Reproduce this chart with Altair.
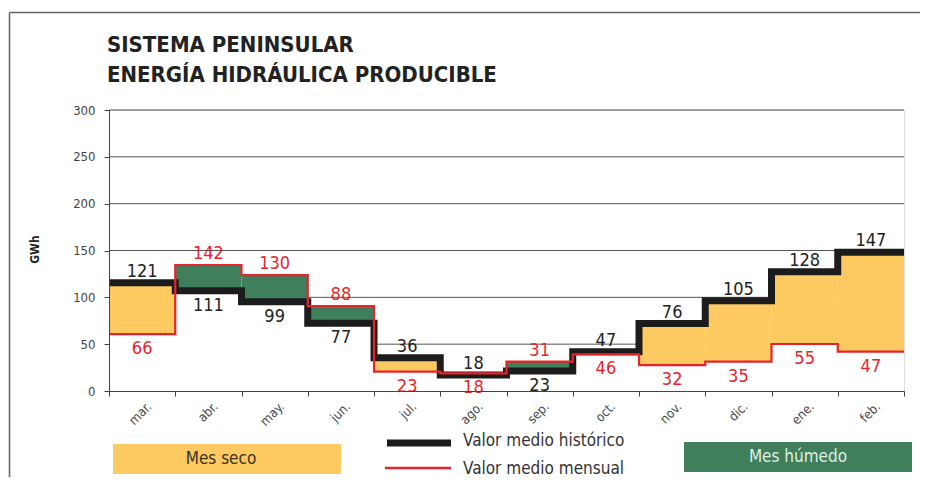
import json
import altair as alt
import pandas as pd

# ---- data ----
months = ["mar.", "abr.", "may.", "jun.", "jul.", "ago.", "sep.", "oct.", "nov.", "dic.", "ene.", "feb."]
# printed labels
hist_label = [121, 111, 99, 77, 36, 18, 23, 47, 76, 105, 128, 147]
mens_label = [66, 142, 130, 88, 23, 18, 31, 46, 32, 35, 55, 47]
# levels at which the step lines are drawn
hist_level = [115.6, 107, 95.3, 72.2, 35.6, 17, 21.3, 42, 72, 96.4, 127.3, 148]
mens_level = [60.8, 134.5, 123.8, 90.7, 20.6, 18.9, 31.3, 39, 27.7, 31.3, 50.2, 42]
y_ticks = [0, 50, 100, 150, 200, 250, 300]
title_lines = ["SISTEMA PENINSULAR", "ENERGÍA HIDRÁULICA PRODUCIBLE"]

FONT = "Liberation Sans Narrow, DejaVu Sans Condensed, Roboto Condensed, sans-serif"
YELLOW = "#FDCA62"
GREEN = "#3F7F5B"
RED = "#E8232B"
BLACK = "#1c1c1c"

W, H = 795, 281

# ---- derived tables ----
n = len(months)
cells = pd.DataFrame({
    "x": list(range(n)),
    "x2": [i + 1 for i in range(n)],
    "lo": [min(a, b) for a, b in zip(hist_level, mens_level)],
    "hi": [max(a, b) for a, b in zip(hist_level, mens_level)],
    "fill": [YELLOW if a > b else GREEN for a, b in zip(hist_level, mens_level)],
})
steps = pd.DataFrame({
    "x": list(range(n + 1)),
    "hist": hist_level + [hist_level[-1]],
    "mens": mens_level + [mens_level[-1]],
})
steps["lo"] = steps[["hist", "mens"]].min(axis=1)
lab_rows = []
for i in range(n):
    black_up = hist_label[i] >= mens_label[i]
    lab_rows.append({"x": i + 0.5, "y": hist_level[i], "t": str(hist_label[i]),
                     "c": "#222222", "pos": "up" if black_up else "down"})
    lab_rows.append({"x": i + 0.5, "y": mens_level[i], "t": str(mens_label[i]),
                     "c": RED, "pos": "down" if black_up else "up"})
labels = pd.DataFrame(lab_rows)
grid = pd.DataFrame({"v": y_ticks[1:]})

xscale = alt.Scale(domain=[0, n], nice=False, zero=False)
yscale = alt.Scale(domain=[0, 300], nice=False)

x_axis = alt.Axis(
    values=[i / 2 for i in range(2 * n + 1)],
    labelExpr=f"datum.value % 1 === 0 ? '' : {json.dumps(months)}[floor(datum.value)]",
    tickOpacity={"condition": {"test": "datum.value % 1 === 0", "value": 1}, "value": 0},
    labelOverlap=False, labelFlush=False, labelAngle=-45, labelAlign="right",
    labelBaseline="middle", labelPadding=8, labelOffset=7, labelFont=FONT,
    labelFontSize=13, labelColor="#4a4a4a", tickSize=5, tickColor="#444444",
    domainColor="#444444", grid=False, title=None, zindex=1,
)
y_axis = alt.Axis(
    values=y_ticks, grid=False, tickSize=5, tickColor="#444444", domainColor="#444444",
    labelFont=FONT, labelFontSize=13, labelColor="#444444", labelPadding=9,
    title="GWh", titleFont=FONT, titleFontSize=12, titleFontWeight="bold",
    titleColor="#222222", titleAngle=-90, titleX=-75, titleY=139,
    titleAlign="center", titleBaseline="middle", zindex=1,
)

base_x = alt.X("x:Q", scale=xscale, axis=x_axis)

gridlines = alt.Chart(grid).mark_rule(color="#555555", strokeWidth=1).encode(
    y=alt.Y("v:Q", scale=yscale, axis=y_axis), x=alt.value(0), x2=alt.value(W)
)
white = alt.Chart(steps).mark_area(interpolate="step-after", color="white").encode(
    x=base_x, y=alt.Y("lo:Q", scale=yscale), y2=alt.datum(0)
)
fills = alt.Chart(cells).mark_rect().encode(
    x=base_x, x2="x2:Q", y=alt.Y("lo:Q", scale=yscale), y2="hi:Q",
    color=alt.Color("fill:N", scale=None),
)
hist_line = alt.Chart(steps).mark_line(
    interpolate="step-after", color=BLACK, strokeWidth=7
).encode(x=base_x, y=alt.Y("hist:Q", scale=yscale))
mens_line = alt.Chart(steps).mark_line(
    interpolate="step-after", color=RED, strokeWidth=2.2
).encode(x=base_x, y=alt.Y("mens:Q", scale=yscale))

lab_up = alt.Chart(labels).transform_filter("datum.pos === 'up'").mark_text(
    font=FONT, fontSize=18, baseline="alphabetic", dy=-6
).encode(x=base_x, y=alt.Y("y:Q", scale=yscale), text="t:N", color=alt.Color("c:N", scale=None))
lab_down = alt.Chart(labels).transform_filter("datum.pos === 'down'").mark_text(
    font=FONT, fontSize=18, baseline="top", dy=6
).encode(x=base_x, y=alt.Y("y:Q", scale=yscale), text="t:N", color=alt.Color("c:N", scale=None))

# ---- title as text ----
title1 = alt.Chart().mark_text(text=title_lines[0], font=FONT, fontSize=22, fontWeight="bold",
                               color="#222222", align="left", baseline="alphabetic").encode(
    x=alt.value(-2), y=alt.value(-58))
title2 = alt.Chart().mark_text(text=title_lines[1], font=FONT, fontSize=22, fontWeight="bold",
                               color="#222222", align="left", baseline="alphabetic").encode(
    x=alt.value(-2), y=alt.value(-28))

# ---- legend (drawn in the space under the plot) ----
leg_seco = alt.Chart().mark_rect(color=YELLOW).encode(
    x=alt.value(4), x2=alt.value(232), y=alt.value(334), y2=alt.value(364))
leg_seco_t = alt.Chart().mark_text(text="Mes seco", font=FONT, fontSize=17, color="#3b3322",
                                    align="center", baseline="middle").encode(
    x=alt.value(112), y=alt.value(349))
leg_hum = alt.Chart().mark_rect(color=GREEN).encode(
    x=alt.value(575), x2=alt.value(803), y=alt.value(332), y2=alt.value(362))
leg_hum_t = alt.Chart().mark_text(text="Mes húmedo", font=FONT, fontSize=17, color="#dfeee3",
                                   align="center", baseline="middle").encode(
    x=alt.value(689), y=alt.value(347))
leg_black = alt.Chart().mark_rule(color=BLACK, strokeWidth=7).encode(
    x=alt.value(278), x2=alt.value(342), y=alt.value(333))
leg_black_t = alt.Chart().mark_text(text="Valor medio histórico", font=FONT, fontSize=17,
                                     color="#333333", align="left", baseline="alphabetic").encode(
    x=alt.value(354), y=alt.value(336))
leg_red = alt.Chart().mark_rule(color=RED, strokeWidth=2.5).encode(
    x=alt.value(276), x2=alt.value(342), y=alt.value(358))
leg_red_t = alt.Chart().mark_text(text="Valor medio mensual", font=FONT, fontSize=17,
                                   color="#333333", align="left", baseline="alphabetic").encode(
    x=alt.value(354), y=alt.value(364))

# ---- outer frame ----
frame_left = alt.Chart().mark_rule(color="#666666", strokeWidth=1.5).encode(
    x=alt.value(-99.5), y=alt.value(-97.5), y2=alt.value(380))
frame_top = alt.Chart().mark_rule(color="#666666", strokeWidth=1.5).encode(
    x=alt.value(-99.5), x2=alt.value(W + 40), y=alt.value(-97.5))

chart = alt.layer(
    gridlines, white, fills, hist_line, mens_line, lab_up, lab_down,
    title1, title2,
    leg_seco, leg_seco_t, leg_hum, leg_hum_t, leg_black, leg_black_t, leg_red, leg_red_t,
    frame_left, frame_top,
).properties(
    width=W, height=H,
    autosize=alt.AutoSizeParams(type="none"),
    padding={"left": 101, "top": 102, "right": 16, "bottom": 86},
).configure_view(stroke="#777777", strokeWidth=1.2).configure(background="white")

chart.save("out.html", embed_options={"renderer": "svg", "actions": False})
